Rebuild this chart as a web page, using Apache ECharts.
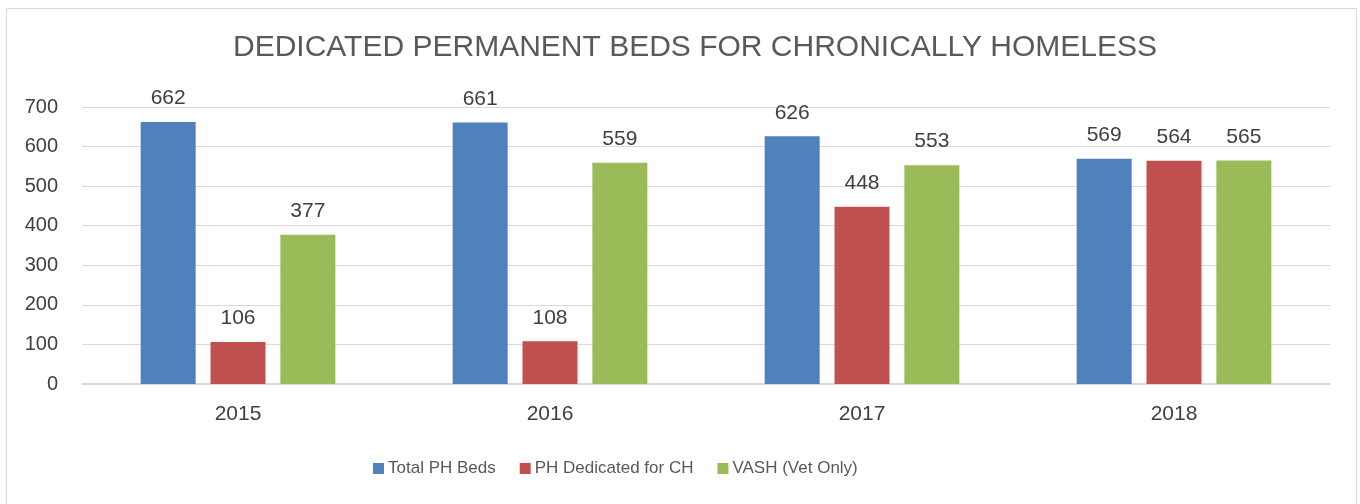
<!DOCTYPE html>
<html>
<head>
<meta charset="utf-8">
<script src="https://cdn.jsdelivr.net/npm/echarts@6/dist/echarts.min.js"></script>
<style>
  html, body { margin: 0; padding: 0; background: #fff; }
  #chart { width: 1360px; height: 504px; }
</style>
</head>
<body>
<div id="chart"></div>
<script>
// chart data
const years = ['2015', '2016', '2017', '2018'];
const totalBeds = [662, 661, 626, 569];
const dedicatedCH = [106, 108, 448, 564];
const vashBeds = [377, 559, 553, 565];

const font = '"Liberation Sans", "Open Sans", sans-serif';
const txt = '#404040';

function barSeries(name, data, color) {
	return {
		name: name,
		type: 'bar',
		barWidth: 55,
		barGap: '27%',
		itemStyle: { color: color },
		label: {
			show: true,
			position: 'top',
			distance: 13,
			color: txt,
			fontFamily: font,
			fontSize: 21
		},
		data: data
	};
}

const chart = echarts.init(document.getElementById('chart'));
chart.setOption({
	animation: false,
	backgroundColor: '#fff',
	graphic: [{
		type: 'rect',
		shape: { x: 6.5, y: 8.5, width: 1350, height: 510 },
		style: { fill: 'none', stroke: '#d9d9d9', lineWidth: 1 },
		silent: true
	}],
	title: {
		text: 'DEDICATED PERMANENT BEDS FOR CHRONICALLY HOMELESS',
		left: 228,
		top: 28,
		textStyle: {
			fontFamily: font,
			fontWeight: 'normal',
			fontSize: 30,
			color: '#595959'
		}
	},
	legend: {
		bottom: 22,
		left: 368,
		itemWidth: 11,
		itemHeight: 11,
		itemGap: 24,
		icon: 'rect',
		textStyle: { fontFamily: font, fontSize: 17, color: '#595959', padding: [0, 0, 0, -1] },
		data: ['Total PH Beds', 'PH Dedicated for CH', 'VASH (Vet Only)']
	},
	grid: { left: 82, right: 30, top: 107, bottom: 120, containLabel: false },
	xAxis: {
		type: 'category',
		data: years,
		axisTick: { show: false },
		axisLine: { lineStyle: { color: '#d9d9d9', width: 2 } },
		axisLabel: { fontFamily: font, fontSize: 21, color: txt, margin: 20 }
	},
	yAxis: {
		type: 'value',
		min: 0,
		max: 700,
		interval: 100,
		axisLabel: { fontFamily: font, fontSize: 20, color: txt, margin: 24 },
		splitLine: { lineStyle: { color: '#d9d9d9', width: 1 } },
		axisLine: { show: false },
		axisTick: { show: false }
	},
	series: [
		barSeries('Total PH Beds', totalBeds, '#4f81bd'),
		barSeries('PH Dedicated for CH', dedicatedCH, '#c0504d'),
		barSeries('VASH (Vet Only)', vashBeds, '#9bbb59')
	]
});
</script>
</body>
</html>
